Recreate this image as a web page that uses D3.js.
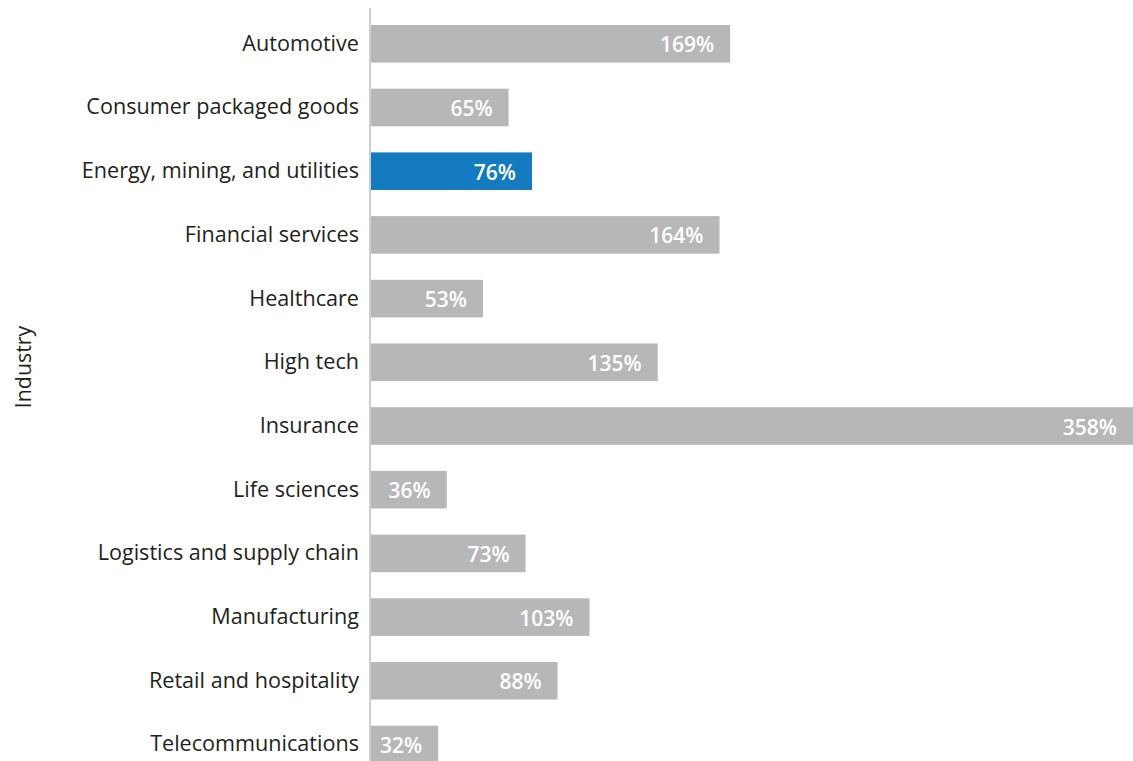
<!DOCTYPE html>
<html>
<head>
<meta charset="utf-8">
<script src="https://cdn.jsdelivr.net/npm/d3@7"></script>
<style>
  html, body { margin: 0; padding: 0; background: #fff; }
  svg { display: block; font-family: "Open Sans", "Noto Sans", sans-serif; }
</style>
</head>
<body>
<svg id="chart" width="1133" height="761"></svg>
<script>
// Growth by industry
const industries = [
  "Automotive",
  "Consumer packaged goods",
  "Energy, mining, and utilities",
  "Financial services",
  "Healthcare",
  "High tech",
  "Insurance",
  "Life sciences",
  "Logistics and supply chain",
  "Manufacturing",
  "Retail and hospitality",
  "Telecommunications"
];
const growthPct = [169, 65, 76, 164, 53, 135, 358, 36, 73, 103, 88, 32];
const highlighted = ["Energy, mining, and utilities"];
const axisTitle = "Industry";

const rows = industries.map((name, i) => ({ name, value: growthPct[i] }));

const svg = d3.select("#chart");
const plotLeft = 370;
const plotRight = 1133;
const step = 63.7;
const plotTop = 25 - step * 0.205;

const x = d3.scaleLinear().domain([0, 358]).range([plotLeft, plotRight]);
const y = d3.scaleBand()
  .domain(industries)
  .range([plotTop, plotTop + step * industries.length])
  .paddingInner(0.41)
  .paddingOuter(0.205);

// bars
svg.append("g").selectAll("rect")
  .data(rows)
  .join("rect")
  .attr("x", x(0))
  .attr("y", d => y(d.name))
  .attr("width", d => x(d.value) - x(0))
  .attr("height", y.bandwidth())
  .attr("fill", d => highlighted.includes(d.name) ? "#157bc0" : "#b7b7b7");

// value labels inside bar ends
svg.append("g").selectAll("text")
  .data(rows)
  .join("text")
  .attr("x", d => x(d.value) - 16)
  .attr("y", d => y(d.name) + y.bandwidth() / 2 + 1)
  .attr("dy", "0.36em")
  .attr("text-anchor", "end")
  .attr("fill", "#fff")
  .attr("font-weight", 600)
  .attr("font-size", 21)
  .text(d => d.value + "%");

// category axis
const yAxis = d3.axisLeft(y).tickSize(0).tickPadding(11);
const gy = svg.append("g")
  .attr("transform", `translate(${plotLeft},0)`)
  .call(yAxis);
gy.select(".domain").remove();
gy.selectAll("text")
  .attr("font-size", 21.6)
  .attr("fill", "#231f20")
  .attr("font-family", "\"Open Sans\", sans-serif");

svg.append("line")
  .attr("x1", plotLeft).attr("x2", plotLeft)
  .attr("y1", 8).attr("y2", 761)
  .attr("stroke", "#cfcfcf")
  .attr("stroke-width", 2);

svg.append("text")
  .attr("transform", "translate(31,367) rotate(-90)")
  .attr("text-anchor", "middle")
  .attr("font-size", 21.4)
  .attr("fill", "#231f20")
  .text(axisTitle);
</script>
</body>
</html>
